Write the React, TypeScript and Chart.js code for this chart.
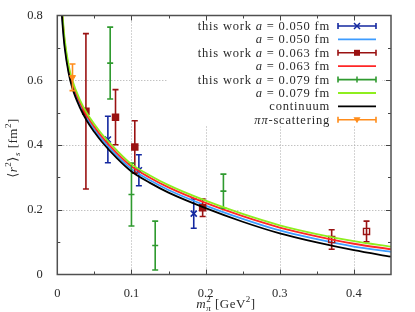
import React, { useEffect, useRef } from 'react';
import { Chart, registerables } from 'chart.js';
Chart.register(...registerables);

// ---- data ----
const curveX = [0.005, 0.0075, 0.01, 0.015, 0.02, 0.03, 0.04, 0.05, 0.06, 0.08, 0.1, 0.125, 0.15, 0.2, 0.25, 0.3, 0.35, 0.4, 0.45];
const contY = [0.84, 0.76, 0.70, 0.625, 0.578, 0.518, 0.474, 0.44, 0.41, 0.36, 0.318, 0.283, 0.253, 0.205, 0.163, 0.127, 0.099, 0.075, 0.055];
const fit050Y = [0.85, 0.77, 0.708, 0.633, 0.586, 0.526, 0.482, 0.448, 0.418, 0.368, 0.326, 0.291, 0.261, 0.213, 0.172, 0.136, 0.109, 0.086, 0.07];
const fit063Y = [0.86, 0.78, 0.716, 0.641, 0.594, 0.534, 0.49, 0.456, 0.426, 0.376, 0.334, 0.299, 0.269, 0.221, 0.18, 0.145, 0.118, 0.095, 0.078];
const fit079Y = [0.87, 0.79, 0.726, 0.65, 0.602, 0.542, 0.498, 0.464, 0.434, 0.384, 0.341, 0.306, 0.276, 0.228, 0.187, 0.152, 0.125, 0.103, 0.086];

const w050X = [0.0682, 0.110, 0.184];
const w050Y = [0.417, 0.322, 0.188];
const w050E = [0.072, 0.048, 0.045];

const w063X = [0.0386, 0.0785, 0.1045, 0.196, 0.370, 0.417];
const w063Y = [0.504, 0.486, 0.394, 0.206, 0.108, 0.133];
const w063E = [0.24, 0.085, 0.081, 0.027, 0.03, 0.032];
const w063Filled = [true, true, true, true, false, false];

const w079X = [0.0713, 0.100, 0.132, 0.224];
const w079Y = [0.653, 0.247, 0.0895, 0.2575];
const w079E = [0.111, 0.097, 0.0755, 0.0525];

const pipiX = [0.0205];
const pipiY = [0.609];
const pipiE = [0.041];

const xTickVals = [0, 0.1, 0.2, 0.3, 0.4];
const yTickVals = [0, 0.2, 0.4, 0.6, 0.8];

// ---- styles ----
const C_BLUE = '#1428a0';
const C_LBLUE = '#3d9cff';
const C_DRED = '#9a1212';
const C_RED = '#ff2626';
const C_GREEN = '#2f9a2f';
const C_LIME = '#8eee1e';
const C_BLACK = '#000000';
const C_ORANGE = '#ff8c1a';
const SERIF = '"Liberation Serif", "DejaVu Serif", serif';
const TXT = '#2a2a2a';

type Run = { t: string; it?: boolean; sz?: number; dy?: number; adv?: boolean };

function fontOf(r: Run, base: number) {
  return `${r.it ? 'italic ' : ''}${r.sz ?? base}px ${SERIF}`;
}

function drawRuns(ctx: CanvasRenderingContext2D, runs: Run[], x: number, y: number, align: 'left' | 'right' | 'center', base: number) {
  let total = 0;
  const ws: number[] = [];
  for (const r of runs) {
    ctx.font = fontOf(r, base);
    const w = ctx.measureText(r.t).width;
    ws.push(w);
    if (r.adv !== false) total += w;
  }
  let cx = align === 'left' ? x : align === 'right' ? x - total : x - total / 2;
  ctx.textAlign = 'left';
  ctx.textBaseline = 'alphabetic';
  runs.forEach((r, i) => {
    ctx.font = fontOf(r, base);
    ctx.fillText(r.t, cx, y + (r.dy ?? 0));
    if (r.adv !== false) cx += ws[i];
  });
}

function drawMarker(ctx: CanvasRenderingContext2D, kind: string, x: number, y: number, color: string) {
  ctx.save();
  ctx.strokeStyle = color;
  ctx.fillStyle = color;
  ctx.lineWidth = 1.5;
  ctx.beginPath();
  if (kind === 'x') {
    ctx.moveTo(x - 3, y - 3); ctx.lineTo(x + 3, y + 3);
    ctx.moveTo(x - 3, y + 3); ctx.lineTo(x + 3, y - 3);
    ctx.stroke();
  } else if (kind === 'sq') {
    ctx.fillRect(x - 3, y - 3, 6, 6);
  } else if (kind === '+') {
    ctx.moveTo(x, y - 3); ctx.lineTo(x, y + 3);
    ctx.stroke();
  } else if (kind === 'tri') {
    ctx.moveTo(x - 3.5, y - 2.5); ctx.lineTo(x + 3.5, y - 2.5); ctx.lineTo(x, y + 3.5);
    ctx.closePath(); ctx.fill();
  }
  ctx.restore();
}

const legendRows: { runs: Run[]; kind: 'err' | 'line'; color: string; marker?: string }[] = [
  { runs: [{ t: 'this work ' }, { t: 'a', it: true }, { t: ' = 0.050 fm' }], kind: 'err', color: C_BLUE, marker: 'x' },
  { runs: [{ t: 'a', it: true }, { t: ' = 0.050 fm' }], kind: 'line', color: C_LBLUE },
  { runs: [{ t: 'this work ' }, { t: 'a', it: true }, { t: ' = 0.063 fm' }], kind: 'err', color: C_DRED, marker: 'sq' },
  { runs: [{ t: 'a', it: true }, { t: ' = 0.063 fm' }], kind: 'line', color: C_RED },
  { runs: [{ t: 'this work ' }, { t: 'a', it: true }, { t: ' = 0.079 fm' }], kind: 'err', color: C_GREEN, marker: '+' },
  { runs: [{ t: 'a', it: true }, { t: ' = 0.079 fm' }], kind: 'line', color: C_LIME },
  { runs: [{ t: 'continuum' }], kind: 'line', color: C_BLACK },
  { runs: [{ t: 'ππ', it: true }, { t: '-scattering' }], kind: 'err', color: C_ORANGE, marker: 'tri' },
];

const errPlugin = {
  id: 'errbars',
  beforeDatasetDraw(chart: any, args: any) {
    const ds = chart.data.datasets[args.index];
    if (!ds.errs) return;
    const xs = chart.scales.x, ys = chart.scales.y;
    const ctx: CanvasRenderingContext2D = chart.ctx;
    const a = chart.chartArea;
    ctx.save();
    ctx.beginPath();
    ctx.rect(a.left, a.top, a.right - a.left, a.bottom - a.top);
    ctx.clip();
    ctx.strokeStyle = ds.borderColor;
    ctx.lineWidth = 1.6;
    ds.data.forEach((p: any, i: number) => {
      const e = ds.errs[i];
      const px = xs.getPixelForValue(p.x);
      const t = ys.getPixelForValue(p.y + e);
      const b = ys.getPixelForValue(p.y - e);
      ctx.beginPath();
      ctx.moveTo(px, t); ctx.lineTo(px, b);
      ctx.moveTo(px - 3, t); ctx.lineTo(px + 3, t);
      ctx.moveTo(px - 3, b); ctx.lineTo(px + 3, b);
      ctx.stroke();
      if (ds.plusMark) {
        const py = ys.getPixelForValue(p.y);
        ctx.beginPath();
        ctx.moveTo(px - 3, py); ctx.lineTo(px + 3, py);
        ctx.stroke();
      }
    });
    ctx.restore();
  },
};

const LEG = { boxL: 168, boxT: 21, boxR: 382, boxB: 126, textR: 330, s0: 338, s1: 376, y0: 26, dy: 13.4 };

const framePlugin = {
  id: 'frame',
  beforeDatasetsDraw(chart: any) {
    const ctx: CanvasRenderingContext2D = chart.ctx;
    const a = chart.chartArea;
    const xs = chart.scales.x, ys = chart.scales.y;
    ctx.save();
    ctx.strokeStyle = '#a8a8a8';
    ctx.lineWidth = 1;
    ctx.setLineDash([1, 2]);
    for (const v of xTickVals) {
      if (v === 0) continue;
      const px = Math.round(xs.getPixelForValue(v)) + 0.5;
      ctx.beginPath(); ctx.moveTo(px, a.top); ctx.lineTo(px, a.bottom); ctx.stroke();
    }
    for (const v of yTickVals) {
      if (v === 0 || v === 0.8) continue;
      const py = Math.round(ys.getPixelForValue(v)) + 0.5;
      ctx.beginPath(); ctx.moveTo(a.left, py); ctx.lineTo(a.right, py); ctx.stroke();
    }
    ctx.setLineDash([]);
    ctx.fillStyle = '#ffffff';
    ctx.fillRect(LEG.boxL, LEG.boxT, LEG.boxR - LEG.boxL, LEG.boxB - LEG.boxT);
    ctx.restore();
  },
  afterDraw(chart: any) {
    const ctx: CanvasRenderingContext2D = chart.ctx;
    const a = chart.chartArea;
    const xs = chart.scales.x, ys = chart.scales.y;
    ctx.save();
    // ticks (inside, mirrored)
    ctx.strokeStyle = '#444';
    ctx.lineWidth = 1;
    for (let k = 1; k < 9; k++) {
      const v = k * 0.05;
      const len = k % 2 === 0 ? 5 : 3;
      const px = Math.round(xs.getPixelForValue(v)) + 0.5;
      ctx.beginPath();
      ctx.moveTo(px, a.bottom); ctx.lineTo(px, a.bottom - len);
      ctx.moveTo(px, a.top); ctx.lineTo(px, a.top + len);
      ctx.stroke();
    }
    for (let k = 1; k < 8; k++) {
      const v = k * 0.1;
      const len = k % 2 === 0 ? 5 : 3;
      const py = Math.round(ys.getPixelForValue(v)) + 0.5;
      ctx.beginPath();
      ctx.moveTo(a.left, py); ctx.lineTo(a.left + len, py);
      ctx.moveTo(a.right, py); ctx.lineTo(a.right - len, py);
      ctx.stroke();
    }
    // frame
    ctx.strokeStyle = '#505050';
    ctx.lineWidth = 1.5;
    ctx.strokeRect(a.left, a.top, a.right - a.left, a.bottom - a.top);

    // legend
    ctx.fillStyle = TXT;
    (ctx as any).letterSpacing = '0.8px';
    legendRows.forEach((row, i) => {
      const cy = LEG.y0 + i * LEG.dy;
      ctx.fillStyle = TXT;
      drawRuns(ctx, row.runs, LEG.textR, cy + 4, 'right', 12.5);
      ctx.strokeStyle = row.color;
      ctx.lineWidth = row.kind === 'err' ? 1.6 : 1.8;
      ctx.beginPath();
      ctx.moveTo(LEG.s0, cy); ctx.lineTo(LEG.s1, cy);
      if (row.kind === 'err') {
        ctx.moveTo(LEG.s0, cy - 3); ctx.lineTo(LEG.s0, cy + 3);
        ctx.moveTo(LEG.s1, cy - 3); ctx.lineTo(LEG.s1, cy + 3);
      }
      ctx.stroke();
      if (row.marker) drawMarker(ctx, row.marker, (LEG.s0 + LEG.s1) / 2, cy, row.color);
    });

    // axis titles
    (ctx as any).letterSpacing = '0.5px';
    ctx.fillStyle = TXT;
    drawRuns(ctx, [
      { t: 'm', it: true },
      { t: '2', sz: 9, dy: -6, adv: false },
      { t: 'π', it: true, sz: 9, dy: 3 },
      { t: ' [GeV' },
      { t: '2', sz: 9, dy: -6 },
      { t: ']' },
    ], 226, 308, 'center', 13);

    ctx.save();
    ctx.translate(16.5, 148);
    ctx.rotate(-Math.PI / 2);
    drawRuns(ctx, [
      { t: '⟨' },
      { t: 'r', it: true },
      { t: '2', sz: 9, dy: -6 },
      { t: '⟩' },
      { t: 's', it: true, sz: 9, dy: 3 },
      { t: ' [fm' },
      { t: '2', sz: 9, dy: -6 },
      { t: ']' },
    ], 0, 0, 'center', 13);
    ctx.restore();
    ctx.restore();
  },
};

function pts(xs: number[], ys: number[]) {
  return xs.map((x, i) => ({ x, y: ys[i] }));
}

function curve(label: string, ys: number[], color: string, width: number) {
  return {
    label,
    data: pts(curveX, ys),
    showLine: true,
    borderColor: color,
    backgroundColor: color,
    borderWidth: width,
    pointRadius: 0,
    cubicInterpolationMode: 'monotone',
  };
}

export default function App() {
  const ref = useRef<HTMLCanvasElement>(null);
  useEffect(() => {
    if (!ref.current) return;
    const seq: any[] = [
      {
        label: 'this work a = 0.050 fm', data: pts(w050X, w050Y), errs: w050E,
        borderColor: C_BLUE, backgroundColor: C_BLUE, pointStyle: 'crossRot', pointRadius: 4.3, pointBorderWidth: 1.6,
      },
      curve('a = 0.050 fm', fit050Y, C_LBLUE, 1.8),
      {
        label: 'this work a = 0.063 fm', data: pts(w063X, w063Y), errs: w063E,
        borderColor: C_DRED, pointBackgroundColor: w063Filled.map((f) => (f ? C_DRED : 'rgba(255,255,255,0)')),
        pointStyle: 'rect', pointRadius: 4.3, pointBorderWidth: 1.4,
      },
      curve('a = 0.063 fm', fit063Y, C_RED, 1.8),
      {
        label: 'this work a = 0.079 fm', data: pts(w079X, w079Y), errs: w079E, plusMark: true,
        borderColor: C_GREEN, backgroundColor: C_GREEN, pointRadius: 0,
      },
      curve('a = 0.079 fm', fit079Y, C_LIME, 1.8),
      curve('continuum', contY, C_BLACK, 1.8),
      {
        label: 'ππ-scattering', data: pts(pipiX, pipiY), errs: pipiE,
        borderColor: C_ORANGE, backgroundColor: C_ORANGE, pointStyle: 'triangle', pointRotation: 180, pointRadius: 3.5, pointBorderWidth: 1,
      },
    ];
    const n = seq.length;
    seq.forEach((d, i) => { d.order = n - 1 - i; });

    const chart = new Chart(ref.current, {
      type: 'scatter',
      data: { datasets: seq },
      options: {
        responsive: false,
        animation: false,
        devicePixelRatio: 1,
        layout: { padding: { left: 0, right: 24, top: 15.5, bottom: 0 } },
        plugins: { legend: { display: false }, tooltip: { enabled: false } },
        scales: {
          x: {
            type: 'linear', min: 0, max: 0.45,
            grid: { display: false }, border: { display: false },
            ticks: {
              stepSize: 0.1, includeBounds: false, padding: 4, color: TXT,
              font: { family: SERIF, size: 12.5 },
              callback: (v: any) => (Number(v) === 0 ? '0' : Number(v).toFixed(1)),
            },
            afterFit: (s: any) => { s.height = 37.5; },
          },
          y: {
            type: 'linear', min: 0, max: 0.8,
            grid: { display: false }, border: { display: false },
            ticks: {
              stepSize: 0.2, padding: 6.5, color: TXT,
              font: { family: SERIF, size: 12.5 },
              callback: (v: any) => (Number(v) === 0 ? '0' : Number(v).toFixed(1)),
            },
            afterFit: (s: any) => { s.width = 57.3; },
          },
        },
      } as any,
      plugins: [errPlugin, framePlugin],
    });
    return () => chart.destroy();
  }, []);
  return (
    <div style={{ position: 'absolute', left: 0, top: 0, width: 415, height: 312, background: '#fff' }}>
      <canvas ref={ref} width={415} height={312} />
    </div>
  );
}
